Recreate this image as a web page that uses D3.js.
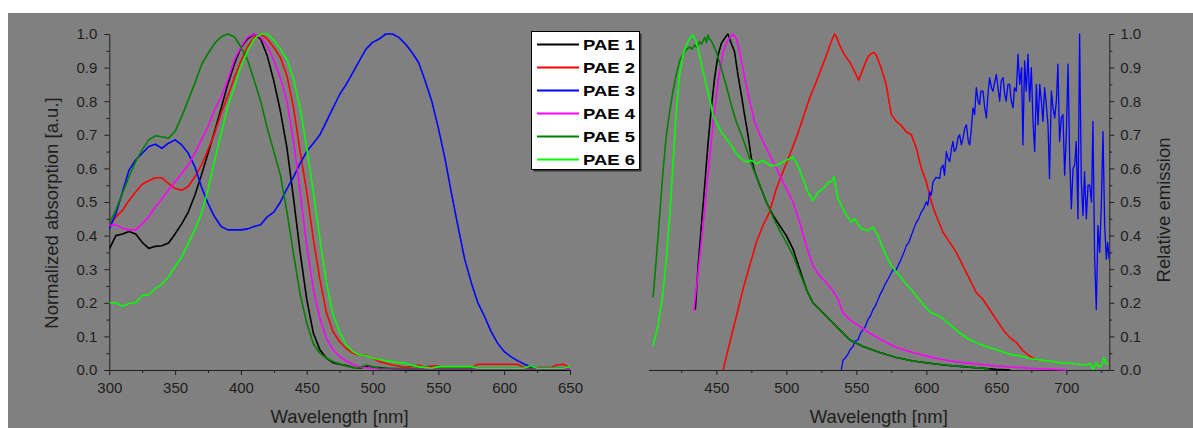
<!DOCTYPE html>
<html><head><meta charset="utf-8">
<script src="https://cdn.jsdelivr.net/npm/d3@7"></script>
<style>
html,body{margin:0;padding:0;background:#fff;}
svg{display:block;font-family:"Liberation Sans",Arial,sans-serif;}
</style></head>
<body><svg id="chart" width="1193" height="428"></svg>
<script>
// ---------- DATA ----------
const seriesNames = ["PAE 1","PAE 2","PAE 3","PAE 4","PAE 5","PAE 6"];
const seriesColors = ["#000000","#ff0000","#0000ff","#ff00ff","#008000","#00ff00"];

// Absorption: common wavelength grid (nm)
const absWl = [300,305,310,315,320,325,330,335,340,345,350,355,360,365,370,375,380,385,390,395,400,405,410,415,420,425,430,435,440,445,450,455,460,465,470,475,480,485,490,495,500,505,510,515,520,525,530,535,540,545,550,555,560,565,570,575,580,585,590,595,600,605,610,615,620,625,630,635,640,645,650];
const abs1 = [.36,.40,.405,.412,.405,.38,.362,.368,.37,.378,.405,.435,.47,.52,.58,.645,.71,.78,.85,.91,.96,.985,1.0,.985,.935,.86,.77,.66,.51,.35,.21,.11,.06,.035,.022,.017,.013,.008,.005,.01,.008,.007,.005,.003,.002,.001,0,0,0,0,0,0,0,0,0,0,0,0,0,0,0,0,0,0,0,0,0,0,0,0,0];
const abs2 = [.43,.455,.475,.505,.53,.553,.563,.572,.572,.555,.54,.535,.546,.575,.61,.655,.705,.765,.815,.87,.92,.962,.99,1.0,.985,.96,.93,.875,.78,.65,.53,.39,.27,.17,.114,.084,.064,.05,.045,.045,.035,.025,.02,.015,.012,.007,.012,.015,.007,.012,.012,.007,.007,.007,.007,.007,.017,.017,.017,.017,.017,.017,.017,.007,.007,.007,.007,.007,.015,.017,.007];
const abs3 = [.42,.465,.53,.595,.625,.645,.665,.672,.66,.675,.685,.67,.645,.605,.545,.496,.456,.427,.417,.417,.417,.42,.427,.432,.456,.47,.50,.54,.575,.615,.65,.675,.70,.74,.78,.82,.85,.885,.92,.955,.975,.985,1.0,1.0,.99,.97,.945,.915,.86,.80,.72,.63,.525,.425,.33,.26,.20,.16,.115,.08,.055,.04,.028,.018,.01,.005,.005,.005,.005,.005,.007];
const abs4 = [.43,.432,.422,.417,.417,.435,.456,.486,.51,.536,.56,.585,.61,.645,.685,.724,.774,.813,.863,.923,.962,.99,1.0,.99,.965,.92,.87,.80,.68,.53,.37,.24,.154,.094,.06,.04,.027,.017,.01,.007,.005,.003,.003,.003,.003,.003,.003,.003,.003,.003,.003,.003,.003,.003,.003,.003,.003,.003,.003,.003,.003,.003,.003,.003,.003,.003,.003,.003,.003,.003,.003];
const abs5 = [.436,.476,.526,.575,.62,.655,.685,.697,.694,.69,.71,.754,.804,.853,.908,.942,.972,.992,1.0,.992,.962,.923,.863,.80,.72,.65,.58,.47,.345,.225,.14,.078,.05,.035,.025,.018,.012,.007,.006,.015,.01,.005,.005,.005,.005,.005,.005,.005,.005,.005,.005,.005,.005,.005,.005,.005,.005,.005,.005,.005,.005,.005,.005,.005,.005,.005,.005,.005,.005,.005,.008];
const abs6 = [.20,.20,.19,.198,.20,.222,.224,.243,.255,.278,.308,.337,.377,.417,.466,.536,.625,.704,.784,.843,.903,.948,.985,1.0,1.0,.982,.955,.925,.865,.78,.66,.53,.39,.26,.164,.114,.074,.055,.045,.043,.035,.032,.028,.025,.022,.02,.014,.01,.007,.005,.01,.01,.01,.01,.01,.01,.005,.005,.005,.005,.005,.005,.005,.005,.013,.005,.005,.005,.005,.005,.01];

// Emission: each series has its own wavelength list (nm)
const em1Wl = [435,437,439.3,441.7,444,446.4,448.8,451.2,453.6,456.7,458.3,460.7,463,465.5,467.9,470.2,472.6,475,477.4,481,485.7,490.5,495.2,500,504.8,509.5,514.3,519,523.8,528.6,533.3,538,545.2,554.8,566.7,578.6,590.5,602.4,614.3,626.2,638,650,660];
const em1 = [.18,.31,.43,.55,.67,.78,.87,.937,.972,.992,1.0,.972,.947,.877,.818,.758,.70,.63,.59,.55,.50,.46,.43,.40,.36,.30,.24,.20,.18,.16,.14,.12,.09,.07,.052,.037,.027,.02,.014,.01,.006,.002,0];
const em2Wl = [454.8,459.5,464.3,469,473.8,478.6,483.3,488,492.9,497.6,502.4,507,511.9,516.7,521.4,525,528.6,532,534.5,536,538,541.7,545.2,548.8,551.7,554.8,558.3,560.7,562.5,564.3,567.9,571.4,575,578.6,582,585.7,589.3,592.9,596.4,600,603.6,607,611.9,616.7,621.4,626.2,631,635.7,640.5,645.2,650,654.8,659.5,664.3,669,673.8,677.4,680];
const em2 = [0,.08,.16,.24,.31,.38,.43,.47,.54,.59,.64,.69,.75,.81,.858,.897,.937,.977,1.0,.99,.967,.937,.917,.888,.863,.897,.932,.942,.945,.937,.897,.848,.76,.74,.728,.709,.70,.66,.60,.56,.50,.46,.41,.38,.35,.31,.27,.23,.21,.18,.15,.12,.097,.082,.057,.042,.032,.03];
const em3Wl = [539.3,540.5,542,544,545.5,547.6,549,551.2,553,554.8,556.5,558.3,560,561.9,563.5,565.5,567,569,570.5,572.6,574.5,576.2,578,579.8,582,584,585.7,587.5,589.3,591,592.9,594.5,596.4,598,600,601,602.4,603.5,604.8,607,609.5,610.5,611.9,613,614.3,615.5,616.7,618,619,620,621.4,622.5,623.8,625,626.2,627.5,628.6,630,631,632,633.3,634.5,635.7,637,638,639,640.5,641.7,642.9,644,645.2,646.5,647.6,649,650,651.2,652.4,653.5,654.8,656,657,658.3,659.5,660.7,661.9,663,664.3,665.5,666.7,668,669,670.2,671.4,672.6,673.8,675,676.2,677.4,678.6,679.8,681,682.2,683.3,684.5,685.7,686.9,688,689.3,690.5,691.7,692.9,694,695.2,696.4,697.6,698.8,700,701.2,702.4,703.6,704.8,706,707.1,708.3,709.5,710.7,711.9,713,714.3,715.5,716.7,718,719,720.2,721.4,722.6,723.8,725,726.2,727.4,728.6,729.5,730.5];
const em3 = [0,.03,.035,.047,.06,.07,.085,.09,.11,.12,.13,.15,.16,.18,.19,.21,.225,.24,.255,.27,.285,.30,.295,.31,.33,.35,.37,.38,.40,.42,.44,.45,.47,.48,.50,.49,.53,.52,.56,.573,.57,.60,.61,.58,.65,.63,.62,.66,.68,.65,.66,.69,.70,.67,.69,.72,.73,.68,.67,.71,.78,.76,.84,.80,.79,.83,.83,.78,.75,.82,.87,.84,.83,.86,.88,.84,.80,.86,.87,.82,.80,.85,.85,.80,.78,.84,.83,.94,.85,.90,.67,.92,.83,.94,.80,.90,.74,.65,.85,.73,.85,.80,.74,.84,.79,.73,.57,.83,.78,.75,.80,.91,.68,.75,.76,.58,.70,.91,.63,.48,.60,.61,.68,.45,1.0,.56,.46,.59,.45,.55,.55,.50,.74,.34,.18,.43,.35,.49,.71,.43,.33,.38,.33];
const em4Wl = [433.8,437,440.5,444,447.6,451.2,454.8,458.3,461.9,464.3,466.7,469,471.4,473.8,477.4,481,485.7,490.5,495.2,500,504.8,509.5,514.3,519,523.8,528.6,533.3,537,540.5,545.2,552.4,559.5,569,578.6,590.5,602.4,614.3,626.2,650,673.8,700];
const em4 = [.176,.29,.43,.58,.73,.858,.947,.982,1.0,.987,.947,.897,.848,.80,.738,.70,.66,.62,.58,.54,.50,.44,.37,.31,.28,.26,.236,.21,.17,.15,.13,.11,.087,.067,.052,.039,.029,.022,.012,.005,0];
const em5Wl = [404.8,407.1,409.5,411.9,414.3,416.7,419,421.4,423.8,425.5,427.4,429,431,432.5,434.5,436,438,439.5,441.7,443,444,445.2,446.4,448,450,453.6,457,460.7,464.3,467.9,471.4,476.2,481,485.7,490.5,495.2,500,504.8,509.5,514.3,519,523.8,528.6,533.3,538,545.2,554.8,566.7,578.6,590.5,602.4,614.3,626.2,638,645];
const em5 = [.216,.33,.46,.59,.70,.77,.83,.88,.92,.935,.947,.955,.962,.955,.967,.96,.977,.97,.99,.975,.997,.985,.98,.965,.947,.897,.848,.788,.738,.70,.66,.60,.55,.50,.455,.415,.38,.34,.29,.24,.20,.18,.16,.14,.12,.09,.07,.052,.037,.027,.02,.014,.01,.006,.003];
const em6Wl = [404.8,408.3,411.9,414.3,416.7,419,421.4,423.8,426.2,428.6,431,433.3,435.7,438,440.5,442.9,445.2,447.6,450,453.6,457,460.7,464.3,467.9,471.4,475,478.6,483.3,488,492.9,497.6,502.4,504.8,508.3,511.9,515.5,519,522.6,526.2,529.8,532,534,536.9,541.7,546.4,548.8,553.6,558.3,561.9,565.5,570.2,575,581,586.9,592.9,598.8,603.6,609.5,616.7,623.8,631,638,645,652.4,659.5,666.7,673.8,681,688,695.2,702.4,709.5,714.3,717,719,721.4,723,725,726.7,728.6,730];
const em6 = [.072,.13,.23,.33,.46,.61,.77,.88,.937,.967,.987,.997,.977,.937,.888,.848,.808,.758,.738,.708,.689,.669,.644,.629,.619,.624,.614,.624,.609,.609,.619,.629,.634,.609,.569,.529,.504,.529,.539,.559,.56,.575,.51,.47,.44,.45,.42,.415,.425,.40,.35,.31,.28,.25,.22,.19,.17,.16,.136,.11,.09,.077,.067,.057,.047,.042,.034,.03,.027,.022,.02,.017,.014,.02,.002,.022,.01,.012,.037,.017,.02];

// Tick values
const absMajorX = [300,350,400,450,500,550,600,650];
const absMinorX = [325,375,425,475,525,575,625];
const emMajorX = [450,500,550,600,650,700];
const emMinorX = [425,475,525,575,625,675,725];
const yMajor = [0,0.1,0.2,0.3,0.4,0.5,0.6,0.7,0.8,0.9,1.0];
const yMinor = [0.05,0.15,0.25,0.35,0.45,0.55,0.65,0.75,0.85,0.95];

// ---------- DRAW ----------
const svg = d3.select("#chart");
svg.append("rect").attr("x",8).attr("y",13).attr("width",1185).attr("height",415).attr("fill","#808080");

const y = d3.scaleLinear().domain([0,1]).range([370,34]);
const xL = d3.scaleLinear().domain([300,650]).range([109.3,570]);
const xR = d3.scaleLinear().domain([401.4,730.7]).range([648.3,1109.3]);

const axisColor = "#1e1e1e";
function styleAxis(g){
  g.selectAll("path,line").attr("stroke",axisColor).attr("stroke-width",1);
  g.selectAll("text").attr("fill","#1e1e1e").style("font-size","15px").style("font-family","'Liberation Sans',Arial,sans-serif");
}
// Left axes
const gLX = svg.append("g").attr("transform","translate(0,370)")
  .call(d3.axisBottom(xL).tickValues(absMajorX).tickSize(5).tickSizeOuter(0).tickPadding(7).tickFormat(d3.format("d")));
styleAxis(gLX);
svg.append("g").attr("transform","translate(0,370)")
  .call(d3.axisBottom(xL).tickValues(absMinorX).tickSize(3).tickSizeOuter(0).tickFormat(""))
  .call(g=>{g.select(".domain").remove(); styleAxis(g);});
const gLY = svg.append("g").attr("transform","translate(109.3,0)")
  .call(d3.axisLeft(y).tickValues(yMajor).tickSize(5).tickSizeOuter(0).tickPadding(7).tickFormat(d3.format(".1f")));
styleAxis(gLY);
svg.append("g").attr("transform","translate(109.3,0)")
  .call(d3.axisLeft(y).tickValues(yMinor).tickSize(3).tickSizeOuter(0).tickFormat(""))
  .call(g=>{g.select(".domain").remove(); styleAxis(g);});
// Right axes
const gRX = svg.append("g").attr("transform","translate(0,370)")
  .call(d3.axisBottom(xR).tickValues(emMajorX).tickSize(5).tickSizeOuter(0).tickPadding(7).tickFormat(d3.format("d")));
styleAxis(gRX);
svg.append("g").attr("transform","translate(0,370)")
  .call(d3.axisBottom(xR).tickValues(emMinorX).tickSize(3).tickSizeOuter(0).tickFormat(""))
  .call(g=>{g.select(".domain").remove(); styleAxis(g);});
const gRY = svg.append("g").attr("transform","translate(1109.3,0)")
  .call(d3.axisRight(y).tickValues(yMajor).tickSize(5).tickSizeOuter(0).tickPadding(6).tickFormat(d3.format(".1f")));
styleAxis(gRY);
svg.append("g").attr("transform","translate(1109.3,0)")
  .call(d3.axisRight(y).tickValues(yMinor).tickSize(3).tickSizeOuter(0).tickFormat(""))
  .call(g=>{g.select(".domain").remove(); styleAxis(g);});

// Titles
const titleStyle = t => t.attr("fill","#1e1e1e").style("font-size","18.5px").attr("text-anchor","middle");
svg.append("text").attr("x",339.6).attr("y",422.5).text("Wavelength [nm]").call(titleStyle);
svg.append("text").attr("x",878.8).attr("y",422.5).text("Wavelength [nm]").call(titleStyle);
svg.append("text").attr("transform","translate(58,213) rotate(-90)").text("Normalized absorption [a.u.]").call(titleStyle);
svg.append("text").attr("transform","translate(1169.5,210) rotate(-90)").text("Relative emission").call(titleStyle);

// Clips
svg.append("clipPath").attr("id","clipL").append("rect").attr("x",109.3).attr("y",30).attr("width",460.7).attr("height",341);
svg.append("clipPath").attr("id","clipR").append("rect").attr("x",648.3).attr("y",30).attr("width",461).attr("height",341);

const absSeries = [abs1,abs2,abs3,abs4,abs5,abs6];
const lineL = d3.line().x(d=>xL(d[0])).y(d=>y(d[1]));
const gAbs = svg.append("g").attr("clip-path","url(#clipL)");
absSeries.forEach((s,i)=>{
  gAbs.append("path").datum(absWl.map((w,k)=>[w,s[k]]))
    .attr("d",lineL).attr("fill","none").attr("stroke",seriesColors[i]).attr("stroke-width",1.6).attr("stroke-linejoin","round");
});

const emSeries = [[em1Wl,em1],[em2Wl,em2],[em3Wl,em3],[em4Wl,em4],[em5Wl,em5],[em6Wl,em6]];
const lineR = d3.line().x(d=>xR(d[0])).y(d=>y(d[1]));
const gEm = svg.append("g").attr("clip-path","url(#clipR)");
emSeries.forEach(([wl,v],i)=>{
  gEm.append("path").datum(wl.map((w,k)=>[w,v[k]]))
    .attr("d",lineR).attr("fill","none").attr("stroke",seriesColors[i]).attr("stroke-width",i===2?1.3:1.6).attr("stroke-linejoin","round");
});

// Legend
const leg = svg.append("g");
leg.append("rect").attr("x",533.5).attr("y",33.5).attr("width",108).attr("height",138).attr("fill","#333");
leg.append("rect").attr("x",531.5).attr("y",31.5).attr("width",108).attr("height",138).attr("fill","#fff").attr("stroke","#000").attr("stroke-width",1);
seriesNames.forEach((n,i)=>{
  const yy = 44.5 + i*23;
  leg.append("line").attr("x1",537).attr("x2",579).attr("y1",yy).attr("y2",yy).attr("stroke",seriesColors[i]).attr("stroke-width",1.8);
  leg.append("text").attr("x",583).attr("y",yy+5.7).text(n)
    .attr("fill","#000").style("font-size","15px").style("font-weight","bold")
    .attr("textLength",52).attr("lengthAdjust","spacingAndGlyphs");
});
</script></body></html>
